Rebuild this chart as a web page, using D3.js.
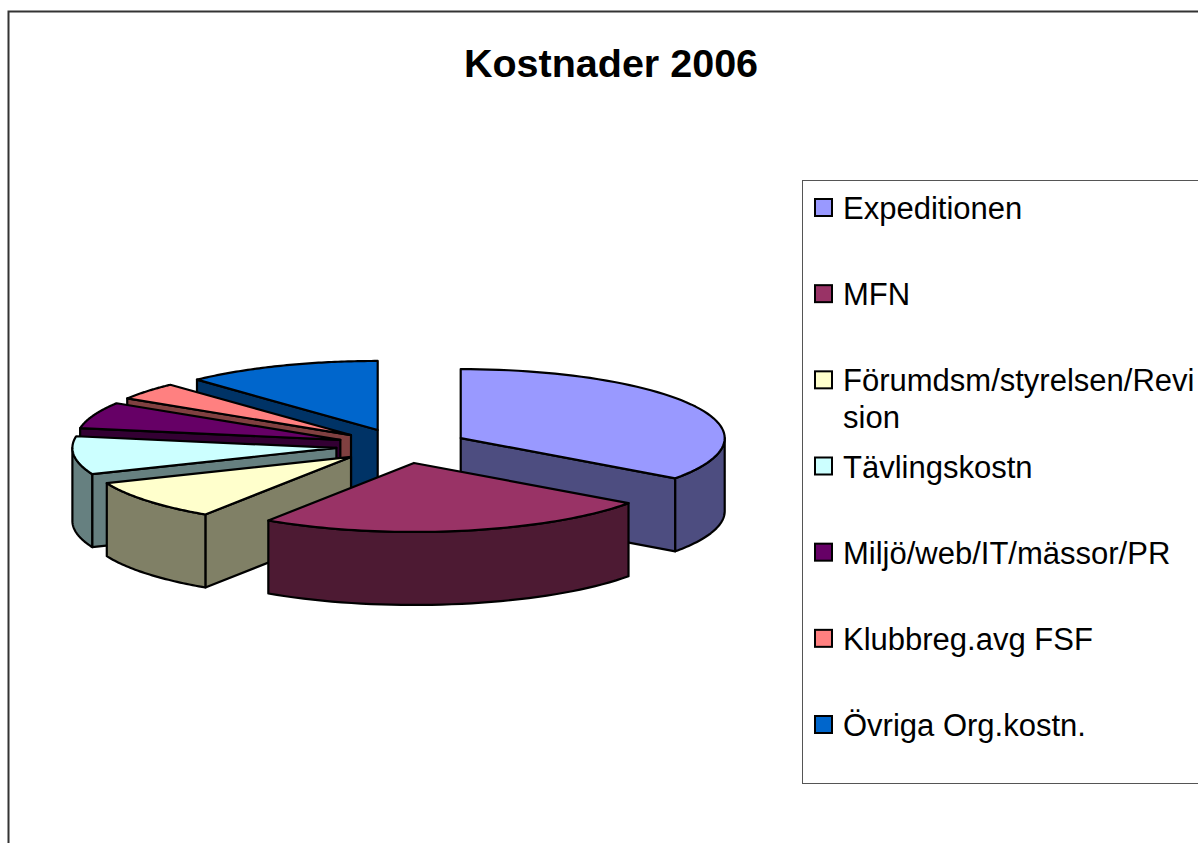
<!DOCTYPE html>
<html>
<head>
<meta charset="utf-8">
<script src="https://cdn.jsdelivr.net/npm/d3@7"></script>
<style>
  html, body { margin: 0; padding: 0; background: #fff; overflow: hidden; }
  text { font-family: "Liberation Sans", Arial, sans-serif; fill: #000; }
</style>
</head>
<body>
<div id="container"></div>
<script>
let w = 1198;
let h = 843;

// share of the total in percent
let categories = ["Expeditionen", "MFN", "Förumdsm/styrelsen/Revision", "Tävlingskostn", "Miljö/web/IT/mässor/PR", "Klubbreg.avg FSF", "Övriga Org.kostn."];
let shares = [34.9, 24.4, 9.5, 8.9, 6.2, 4.1, 12.0];
let colors = ["#9999ff", "#993366", "#ffffcc", "#ccffff", "#660066", "#ff8080", "#0066cc"];
let legendLines = [["Expeditionen"], ["MFN"], ["Förumdsm/styrelsen/Revi", "sion"], ["Tävlingskostn"], ["Miljö/web/IT/mässor/PR"], ["Klubbreg.avg FSF"], ["Övriga Org.kostn."]];

let cx = 402;
let cy = 446;
let rx = 264;
let ry = 69;
let explode = 66;
let depth = 73;

let viz = d3.select("#container")
  .append("svg")
  .attr("width", w)
  .attr("height", h)
  .style("display", "block")
;

// chart frame, runs off the right and bottom of the window
viz.append("path")
  .attr("d", d3.line()([[8.5, h + 5], [8.5, 11.5], [w + 5, 11.5]]))
  .attr("fill", "none")
  .attr("stroke", "#333")
  .attr("stroke-width", 2);

viz.append("text")
  .attr("x", 611)
  .attr("y", 77)
  .attr("text-anchor", "middle")
  .attr("font-size", 39.5)
  .attr("font-weight", "bold")
  .text("Kostnader 2006");

let pie = d3.pie().sort(null);
let slices = pie(shares).map((d, i) => {
  let mid = (d.startAngle + d.endAngle) / 2;
  return {
    start: d.startAngle,
    end: d.endAngle,
    color: colors[i],
    ax: cx + explode * Math.sin(mid),
    ay: cy - explode * (ry / rx) * Math.cos(mid)
  };
});

function rim(s, t) {
  return [s.ax + rx * Math.sin(t), s.ay - ry * Math.cos(t)];
}
function down(p) {
  return [p[0], p[1] + depth];
}
function wallColor(c) {
  let col = d3.rgb(c);
  return d3.rgb(col.r / 2, col.g / 2, col.b / 2).formatHex();
}

let line = d3.line();
let poly = p => line(p) + "Z";

function drawShape(g, points, fill) {
  g.append("path")
    .attr("d", poly(points))
    .attr("fill", fill)
    .attr("stroke", "#000")
    .attr("stroke-width", 2.2)
    .attr("stroke-linejoin", "round");
}

// back slices first, so the front ones cover them
let order = d3.range(slices.length).sort((a, b) => slices[a].ay - slices[b].ay);

order.forEach(i => {
  let s = slices[i];
  let g = viz.append("g").attr("class", "slice");
  let apex = [s.ax, s.ay];
  let wall = wallColor(s.color);

  // cut faces, only the ones turned to the viewer
  if (Math.sin(s.start) < 0) {
    let p = rim(s, s.start);
    drawShape(g, [apex, p, down(p), down(apex)], wall);
  }
  if (Math.sin(s.end) > 0) {
    let p = rim(s, s.end);
    drawShape(g, [apex, p, down(p), down(apex)], wall);
  }

  // outer wall, front half of the ellipse only
  let t0 = Math.max(s.start, Math.PI / 2);
  let t1 = Math.min(s.end, Math.PI * 1.5);
  if (t1 > t0) {
    let ts = d3.range(0, 41).map(k => t0 + (t1 - t0) * k / 40);
    let upper = ts.map(t => rim(s, t));
    drawShape(g, upper.concat(upper.map(down).reverse()), wall);
  }

  let arc = d3.range(0, 61).map(k => rim(s, s.start + (s.end - s.start) * k / 60));
  drawShape(g, [apex].concat(arc), s.color);
});

// legend
viz.append("rect")
  .attr("x", 802.5)
  .attr("y", 180.5)
  .attr("width", w)
  .attr("height", 603)
  .attr("fill", "none")
  .attr("stroke", "#555")
  .attr("stroke-width", 1);

let legendY = d3.scalePoint()
  .domain(categories)
  .range([208, 725]);

let items = viz.selectAll(".legend-item").data(categories).enter()
  .append("g")
  .attr("class", "legend-item")
  .attr("transform", d => "translate(0," + legendY(d) + ")");

items.append("rect")
  .attr("x", 815)
  .attr("y", -9)
  .attr("width", 17)
  .attr("height", 17)
  .attr("fill", (d, i) => colors[i])
  .attr("stroke", "#000")
  .attr("stroke-width", 2);

items.each(function (d, i) {
  d3.select(this).selectAll("text").data(legendLines[i]).enter()
    .append("text")
    .attr("x", 843)
    .attr("y", (l, k) => 11 + k * 37)
    .attr("font-size", 31)
    .text(l => l);
});
</script>
</body>
</html>
